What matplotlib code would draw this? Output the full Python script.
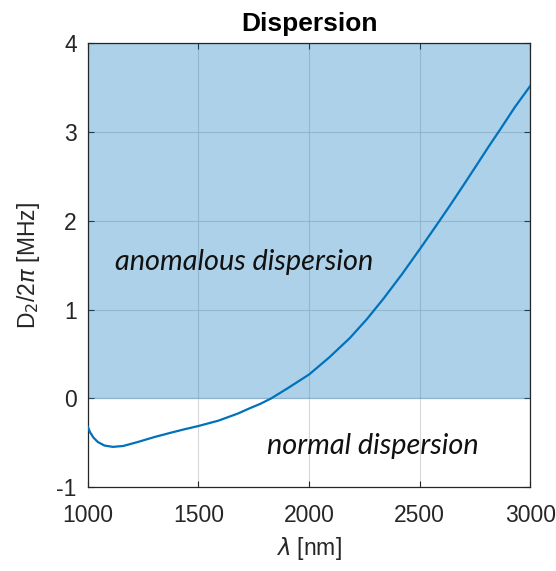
import numpy as np
import matplotlib
matplotlib.use('Agg')
import matplotlib.pyplot as plt

plt.rcParams['font.family'] = ['Liberation Sans Narrow', 'Liberation Sans', 'DejaVu Sans']
plt.rcParams['mathtext.fontset'] = 'dejavusans'
plt.rcParams['axes.unicode_minus'] = False

# wavelength [nm] and D2/2pi [MHz]
wavelength = [1000, 1010, 1025, 1045, 1075, 1113, 1160, 1226, 1300, 1376, 1440, 1500,
              1590, 1678, 1732, 1780, 1828, 1900, 2000, 2090, 2184, 2260, 2335,
              2420, 2500, 2570, 2636, 2700, 2750, 2810, 2864, 2930, 3000]
d2 = [-0.32, -0.38, -0.44, -0.49, -0.53, -0.545, -0.535, -0.49, -0.435, -0.385, -0.345, -0.31,
      -0.25, -0.17, -0.11, -0.06, 0.0, 0.11, 0.27, 0.46, 0.68, 0.89, 1.12,
      1.40, 1.68, 1.93, 2.17, 2.41, 2.60, 2.83, 3.03, 3.28, 3.52]

xticks = [1000, 1500, 2000, 2500, 3000]
yticks = [-1, 0, 1, 2, 3, 4]

fig = plt.figure(figsize=(5.56, 5.71), dpi=100)
ax = fig.add_axes([0.158, 0.1466, 0.796, 0.778])

# anomalous region shading (MATLAB-ish area with alpha)
ax.fill_between([1000, 3000], 0, 4, facecolor='#0072BD', alpha=0.32,
                edgecolor='#4a87c0', linewidth=1.0, zorder=1)
ax.plot(wavelength, d2, color='#0072BD', linewidth=1.6, zorder=3)

ax.set_xlim(1000, 3000)
ax.set_ylim(-1, 4)
ax.set_xticks(xticks)
ax.set_yticks(yticks)
ax.grid(True, color='#c8c8c8', linewidth=0.8, alpha=0.7)
ax.set_axisbelow(True)

ax.tick_params(direction='in', length=4, width=0.8, top=True, right=True,
               labelsize=16.5, colors='#262626')
ax.tick_params(axis='x', pad=12)
ax.tick_params(axis='y', pad=8)
for s in ax.spines.values():
    s.set_color('#262626')
    s.set_linewidth(0.9)

ax.set_title('Dispersion', fontsize=19, fontweight='bold', pad=9)
ax.set_xlabel(r'$\lambda$ [nm]', fontsize=16.5, color='#262626', labelpad=6)
ax.set_ylabel(r'D$_2$/2$\pi$ [MHz]', fontsize=16.5, color='#262626', labelpad=10)

ax.text(1705, 1.535, 'anomalous dispersion', fontsize=20.8, style='italic',
        family=['Lato', 'DejaVu Sans'], ha='center', va='center', color='#111111')
ax.text(2289, -0.53, 'normal dispersion', fontsize=20.8, style='italic',
        family=['Lato', 'DejaVu Sans'], ha='center', va='center', color='#111111')

fig.savefig('out.png', dpi=100)
